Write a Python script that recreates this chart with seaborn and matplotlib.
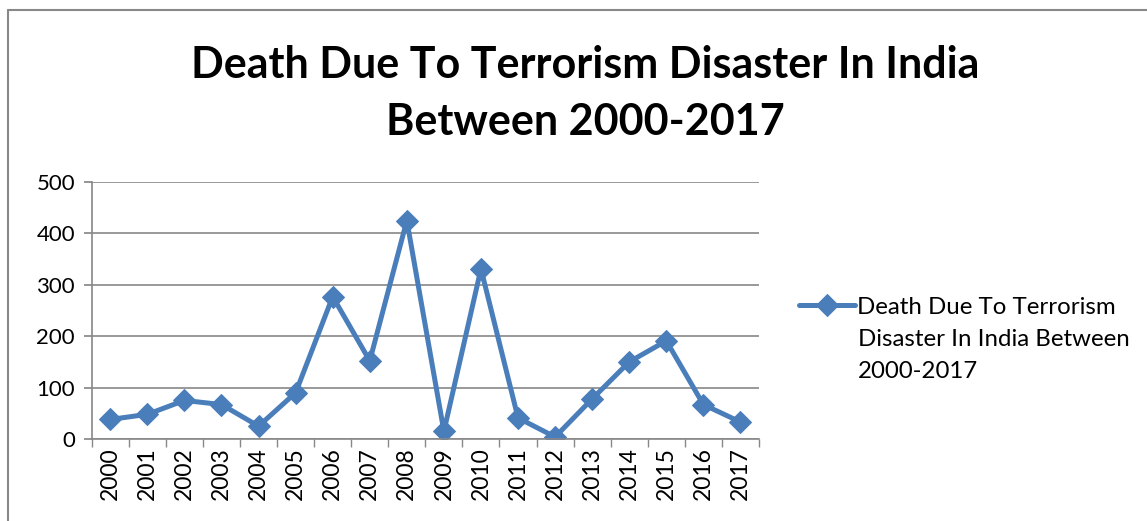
import pandas as pd
import matplotlib.pyplot as plt
import seaborn as sns
from matplotlib.lines import Line2D

years = [str(y) for y in range(2000, 2018)]
deaths = [38, 48, 75, 67, 25, 90, 277, 152, 425, 15, 331, 41, 4, 78, 150, 191, 67, 33]
legend_lines = ["Death Due To Terrorism", "Disaster In India Between", "2000-2017"]


def plot_chart(df, output_file):
    sns.set_theme(style="white")
    plt.rcParams['font.family'] = ['Lato', 'DejaVu Sans']
    plt.rcParams['text.color'] = 'black'
    plt.rcParams['xtick.color'] = 'black'
    plt.rcParams['ytick.color'] = 'black'

    fig = plt.figure(figsize=(11.47, 5.21), dpi=100)
    ax = fig.add_axes([0.080, 0.1574, 0.5817, 0.4933])

    sns.lineplot(
        data=df, x="year", y="deaths", ax=ax,
        color="#4a7ebb", linewidth=3.6, marker="D", markersize=11.5,
        markeredgecolor="#4a7ebb", label=legend_lines[0], sort=False
    )

    ax.set_xlim(-0.5, len(years) - 0.5)
    ax.set_ylim(0, 500)
    ax.set_yticks(range(0, 501, 100))
    ax.set_xticks(range(len(years)))
    ax.set_xticklabels(years, rotation=90, fontsize=16.5)
    ax.tick_params(axis="y", labelsize=16, length=6, color="#888888", direction="out", left=True, pad=6)
    ax.tick_params(axis="x", length=0, pad=6)
    # tick marks on category boundaries
    ax.set_xticks([i - 0.5 for i in range(len(years) + 1)], minor=True)
    ax.tick_params(axis="x", which="minor", length=6, color="#888888", bottom=True, direction="out")
    ax.set_xlabel("")
    ax.set_ylabel("")

    ax.yaxis.grid(True, color="#888888", linewidth=1.2)
    ax.xaxis.grid(False)
    for side in ["top", "right"]:
        ax.spines[side].set_visible(False)
    for side in ["left", "bottom"]:
        ax.spines[side].set_color("#888888")
        ax.spines[side].set_linewidth(1.2)

    fig.text(0.51, 0.875, "Death Due To Terrorism Disaster In India", ha="center", va="center",
             fontsize=31, fontweight="bold")
    fig.text(0.51, 0.765, "Between 2000-2017", ha="center", va="center",
             fontsize=31, fontweight="bold")

    handles, labels = ax.get_legend_handles_labels()
    ax.legend(handles, labels,
              loc="center left", bbox_to_anchor=(0.697, 1 - 307 / 521), bbox_transform=fig.transFigure,
              frameon=False, fontsize=17.3, handlelength=2.3, handletextpad=0.1,
              borderaxespad=0, borderpad=0)
    # the wrapped legend label continues below the first line
    x_text = 858 / 1147
    for i, line in enumerate(legend_lines[1:], start=1):
        fig.text(x_text, 1 - (307 + 32.5 * i) / 521, line, ha="left", va="center", fontsize=17.3)

    # outer chart frame (left and top edges)
    fig.add_artist(Line2D([8 / 1147, 8 / 1147], [0, 1 - 10 / 521], transform=fig.transFigure,
                          color="#888888", linewidth=1.5))
    fig.add_artist(Line2D([8 / 1147, 1], [1 - 10 / 521, 1 - 10 / 521], transform=fig.transFigure,
                          color="#888888", linewidth=1.5))

    fig.savefig(output_file, dpi=100)


if __name__ == "__main__":
    df = pd.DataFrame({"year": years, "deaths": deaths})
    plot_chart(df, "out.png")
